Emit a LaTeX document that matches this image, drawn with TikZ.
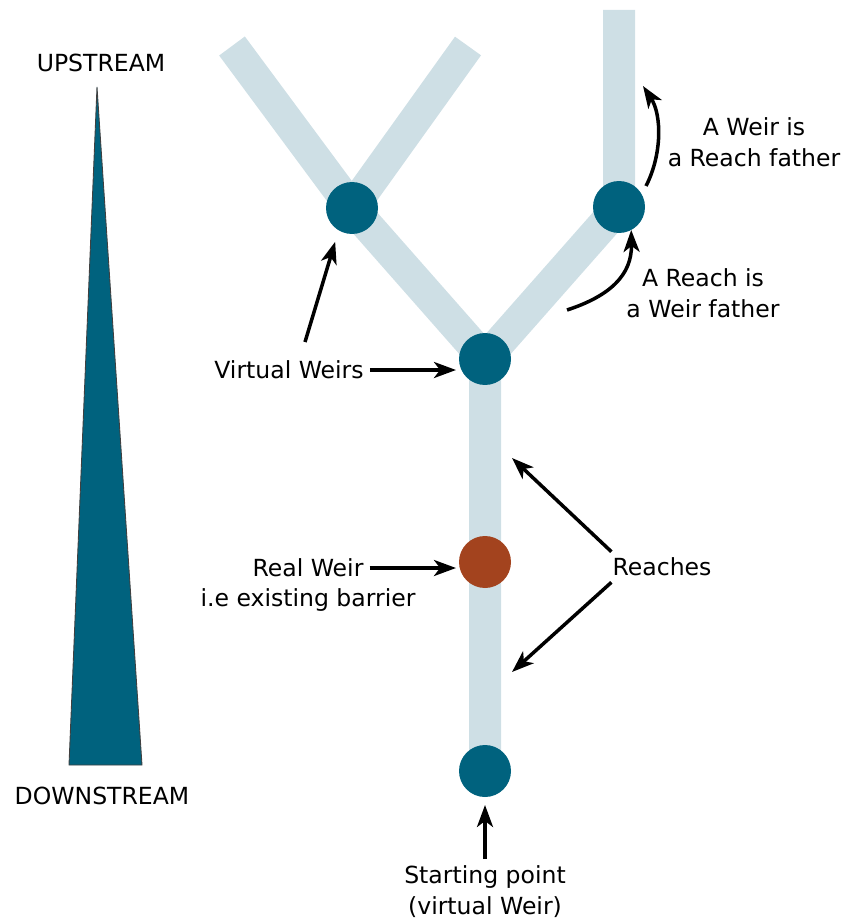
\documentclass[tikz,border=0pt]{standalone}
\usepackage{fontspec}
\setmainfont{DejaVu Sans}
\usetikzlibrary{arrows.meta}
\definecolor{weirblue}{HTML}{00627E}
\definecolor{riverblue}{HTML}{CEDFE5}
\definecolor{barrier}{HTML}{A3431E}
\tikzset{
  river/.style={line width=0.64cm, riverblue, line join=round},
  weir/.style={circle, fill=weirblue, minimum size=1.04cm, inner sep=0pt, outer sep=0pt},
  txt/.style={font=\fontsize{13.4}{17.6}\selectfont, align=center},
  pointer/.style={-{Stealth[length=0.44cm,width=0.32cm,inset=0.12cm]}, line width=0.07cm},
}
\begin{document}
\begin{tikzpicture}[x=0.02cm,y=-0.02cm]
		\useasboundingbox (0,0) rectangle (846,919);
		% river network
		\coordinate (ltop) at (232,46);
		\coordinate (rtop) at (468,46);
		\coordinate (top) at (619,10);
		\coordinate (p1) at (352,208);
		\coordinate (p2) at (619,207);
		\coordinate (p3) at (485,359);
		\coordinate (p4) at (485,562);
		\coordinate (p5) at (485,771);
		\draw[river] (ltop) -- (p1) -- (p3) -- (p5);
		\draw[river] (rtop) -- (p1);
		\draw[river] (p3) -- (p2) -- (top);
		
		% upstream / downstream wedge
		\filldraw[fill=weirblue, draw=black!75, line width=0.5pt] (97,87) -- (142,765) -- (69,765) -- cycle;
		\node[txt] (up) at (101,63) {UPSTREAM};
		\node[txt] (down) at (102,796) {DOWNSTREAM};
		
		% weirs
		\node[weir] (w1) at (p1) {};
		\node[weir] (w2) at (p2) {};
		\node[weir] (jct) at (p3) {};
		\node[weir, fill=barrier] (real) at (p4) {};
		\node[weir] (start) at (p5) {};
		
		% labels
		\node[txt] (vw) at (289,370) {Virtual Weirs};
		\node[txt] (rw) at (308,568) {Real Weir};
		\node[txt] (rwb) at (308,600) {i.e existing barrier};
		\node[txt] (reaches) at (662,567) {Reaches};
		\node[txt] (wf) at (754,142) {A Weir is\\a Reach father};
		\node[txt] (rf) at (703,293) {A Reach is\\a Weir father};
		\node[txt, anchor=north] (st) at (485,859) {Starting point\\(virtual Weir)};
		
		% arrows
		\coordinate (vwup) at (305,342);
		\coordinate (wfa) at (646,186);
		\coordinate (wfb) at (643,86);
		\coordinate (rfa) at (567,310);
		\coordinate (ra) at (512,458);
		\coordinate (rb) at (512,672);
		\draw[pointer, shorten >=0.06cm] (vw.east) -- (vw.east -| jct.west);
		\draw[pointer, shorten >=0.24cm] (vwup) -- (w1.-121);
		\draw[pointer, shorten >=0.06cm] (rw.east) -- (rw.east -| real.west);
		\draw[pointer] ([xshift=0.1cm]reaches.north west) -- (ra);
		\draw[pointer] ([xshift=0.1cm]reaches.south west) -- (rb);
		\draw[pointer, shorten >=0.16cm] (st.north) -- (start.south);
		\draw[pointer] (wfa) .. controls (662,155) and (662,115) .. (wfb);
		\draw[pointer] (rfa) .. controls (610,296) and (632,275) .. (w2.-62);
\end{tikzpicture}
\end{document}
